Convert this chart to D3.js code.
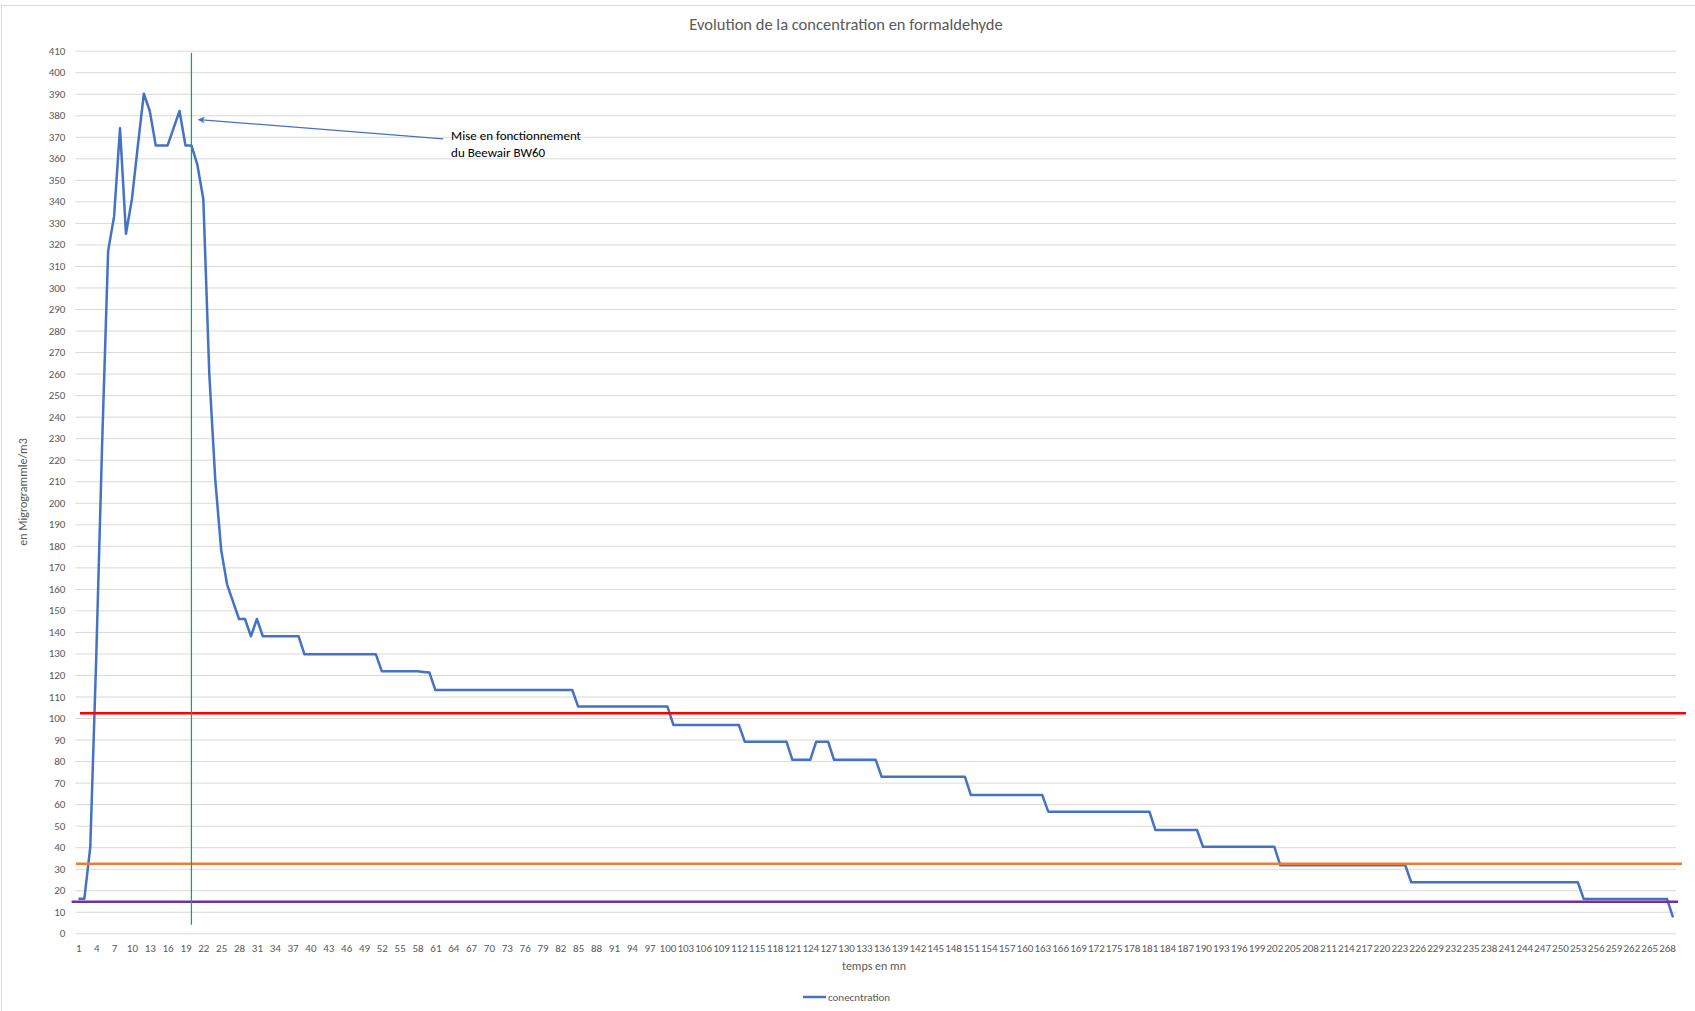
<!DOCTYPE html>
<html>
<head>
<meta charset="utf-8">
<script src="https://cdn.jsdelivr.net/npm/d3@7"></script>
<style>
	body { margin: 0; background: #fff; }
	text { font-family: Calibri, Carlito, 'Liberation Sans', Arial, sans-serif; }
	.tick text { fill: #595959; font-size: 11px; }
	.tick line { stroke: #d9d9d9; stroke-width: 1; }
</style>
</head>
<body>
<div id="chart"></div>
<script>
let width = 1695
let height = 1011

// minutes on the x axis, 1 .. 269
let minutes = d3.range(1, 270)
let xLabels = minutes.filter((m) => (m - 1) % 3 === 0)
let yTicks = d3.range(0, 411, 10)

// formaldehyde concentration, one value per minute
let concentration = [
	16, 16, 40, 128, 228, 317, 333, 374, 325, 341,
	366, 390, 382, 366, 366, 366, 374, 382, 366, 366,
	357, 341, 260, 211, 178, 162, 154, 146, 146, 138,
	146, 138, 138, 138, 138, 138, 138, 138, 129.6, 129.6,
	129.6, 129.6, 129.6, 129.6, 129.6, 129.6, 129.6, 129.6, 129.6, 129.6,
	129.6, 121.7, 121.7, 121.7, 121.7, 121.7, 121.7, 121.7, 121.4, 121.1,
	113, 113, 113, 113, 113, 113, 113, 113, 113, 113,
	113, 113, 113, 113, 113, 113, 113, 113, 113, 113,
	113, 113, 113, 113, 105.3, 105.3, 105.3, 105.3, 105.3, 105.3,
	105.3, 105.3, 105.3, 105.3, 105.3, 105.3, 105.3, 105.3, 105.3, 105.3,
	96.8, 96.8, 96.8, 96.8, 96.8, 96.8, 96.8, 96.8, 96.8, 96.8,
	96.8, 96.8, 89, 89, 89, 89, 89, 89, 89, 89,
	80.6, 80.6, 80.6, 80.6, 89, 89, 89, 80.6, 80.6, 80.6,
	80.6, 80.6, 80.6, 80.6, 80.6, 72.7, 72.7, 72.7, 72.7, 72.7,
	72.7, 72.7, 72.7, 72.7, 72.7, 72.7, 72.7, 72.7, 72.7, 72.7,
	64.2, 64.2, 64.2, 64.2, 64.2, 64.2, 64.2, 64.2, 64.2, 64.2,
	64.2, 64.2, 64.2, 56.5, 56.5, 56.5, 56.5, 56.5, 56.5, 56.5,
	56.5, 56.5, 56.5, 56.5, 56.5, 56.5, 56.5, 56.5, 56.5, 56.5,
	56.5, 48, 48, 48, 48, 48, 48, 48, 48, 40.2,
	40.2, 40.2, 40.2, 40.2, 40.2, 40.2, 40.2, 40.2, 40.2, 40.2,
	40.2, 40.2, 31.6, 31.6, 31.6, 31.6, 31.6, 31.6, 31.6, 31.6,
	31.6, 31.6, 31.6, 31.6, 31.6, 31.6, 31.6, 31.6, 31.6, 31.6,
	31.6, 31.6, 31.6, 31.6, 23.7, 23.7, 23.7, 23.7, 23.7, 23.7,
	23.7, 23.7, 23.7, 23.7, 23.7, 23.7, 23.7, 23.7, 23.7, 23.7,
	23.7, 23.7, 23.7, 23.7, 23.7, 23.7, 23.7, 23.7, 23.7, 23.7,
	23.7, 23.7, 23.7, 15.9, 15.9, 15.9, 15.9, 15.9, 15.9, 15.9,
	15.9, 15.9, 15.9, 15.9, 15.9, 15.9, 15.9, 15.9, 7.4
]

// horizontal threshold lines drawn over the chart
let thresholdValues = [102.2, 32.3, 14.7]
let thresholdColors = ['#ff0000', '#ed7d31', '#7030a0']

// start of the purifier
let startMinute = 20
let startLine = [409, 4]
let arrowFrom = [62.3, 369]
let arrowTo = [21.2, 378]
let noteLines = ['Mise en fonctionnement', 'du Beewair BW60']

let plot = {
	'left': 75.4,
	'right': 1676,
	'top': 50.7,
	'bottom': 933.3,
}

let xScale = d3.scalePoint()
	.domain(minutes)
	.range([plot.left, plot.right])
	.padding(0.5)

let yScale = d3.scaleLinear()
	.domain([0, 410])
	.range([plot.bottom, plot.top])

let svg = d3.select('#chart').append('svg')
	.attr('width', width)
	.attr('height', height)

svg.append('defs').append('marker')
	.attr('id', 'head')
	.attr('viewBox', '0 0 10 10')
	.attr('refX', 9)
	.attr('refY', 5)
	.attr('markerWidth', 9)
	.attr('markerHeight', 7)
	.attr('markerUnits', 'userSpaceOnUse')
	.attr('orient', 'auto')
	.append('path')
	.attr('d', 'M0,0 L10,5 L0,10 L3,5 Z')
	.attr('fill', '#4472c4')

// chart area border
svg.append('rect')
	.attr('x', 1.5)
	.attr('y', 5.5)
	.attr('width', 1750)
	.attr('height', 1100)
	.attr('fill', 'none')
	.attr('stroke', '#d9d9d9')

svg.append('text')
	.attr('x', 846)
	.attr('y', 30)
	.attr('text-anchor', 'middle')
	.attr('fill', '#595959')
	.style('font-size', '16.5px')
	.text('Evolution de la concentration en formaldehyde')

let yAxis = d3.axisLeft(yScale)
	.tickValues(yTicks)
	.tickSize(-(plot.right - plot.left))
	.tickPadding(10)

svg.append('g')
	.attr('transform', `translate(${plot.left},0)`)
	.call(yAxis)
	.call((g) => g.select('.domain').remove())

let xAxis = d3.axisBottom(xScale)
	.tickValues(xLabels)
	.tickSize(0)
	.tickPadding(11)

svg.append('g')
	.attr('transform', `translate(0,${plot.bottom})`)
	.call(xAxis)
	.call((g) => g.select('.domain').remove())

svg.append('text')
	.attr('x', 874)
	.attr('y', 970)
	.attr('text-anchor', 'middle')
	.attr('fill', '#595959')
	.style('font-size', '12px')
	.text('temps en mn')

svg.append('text')
	.attr('transform', 'translate(27,492) rotate(-90)')
	.attr('text-anchor', 'middle')
	.attr('fill', '#595959')
	.style('font-size', '12px')
	.text('en Migrogrammle/m3')

let line = d3.line()
	.x((d, i) => xScale(minutes[i]))
	.y((d) => yScale(d))

svg.append('path')
	.datum(concentration)
	.attr('d', line)
	.attr('fill', 'none')
	.attr('stroke', '#4472c4')
	.attr('stroke-width', 2.5)
	.attr('stroke-linejoin', 'round')

let lineEnds = [[80, 1686], [76, 1682], [71.6, 1678]]

svg.append('g').selectAll('line')
	.data(thresholdValues)
	.enter().append('line')
	.attr('x1', (d, i) => lineEnds[i][0])
	.attr('x2', (d, i) => lineEnds[i][1])
	.attr('y1', (d) => yScale(d))
	.attr('y2', (d) => yScale(d))
	.attr('stroke', (d, i) => thresholdColors[i])
	.attr('stroke-width', 2.5)

svg.append('line')
	.attr('x1', xScale(startMinute))
	.attr('x2', xScale(startMinute))
	.attr('y1', yScale(startLine[0]))
	.attr('y2', yScale(startLine[1]))
	.attr('stroke', '#00b050')
	.attr('stroke-width', 1.25)

let xAt = (m) => xScale(Math.floor(m)) + (m - Math.floor(m)) * xScale.step()

svg.append('line')
	.attr('x1', xAt(arrowFrom[0]))
	.attr('y1', yScale(arrowFrom[1]))
	.attr('x2', xAt(arrowTo[0]))
	.attr('y2', yScale(arrowTo[1]))
	.attr('stroke', '#4472c4')
	.attr('stroke-width', 1.25)
	.attr('marker-end', 'url(#head)')

svg.append('g').selectAll('text')
	.data(noteLines)
	.enter().append('text')
	.attr('x', xAt(arrowFrom[0]) + 8)
	.attr('y', (d, i) => 140 + i * 16.5)
	.attr('fill', '#000')
	.style('font-size', '13px')
	.text((d) => d)

// legend
let legend = svg.append('g')

legend.append('line')
	.attr('x1', 803)
	.attr('x2', 826)
	.attr('y1', 997)
	.attr('y2', 997)
	.attr('stroke', '#4472c4')
	.attr('stroke-width', 2.5)

legend.append('text')
	.attr('x', 828)
	.attr('y', 1001)
	.attr('fill', '#595959')
	.style('font-size', '11px')
	.text('conecntration')
</script>
</body>
</html>
